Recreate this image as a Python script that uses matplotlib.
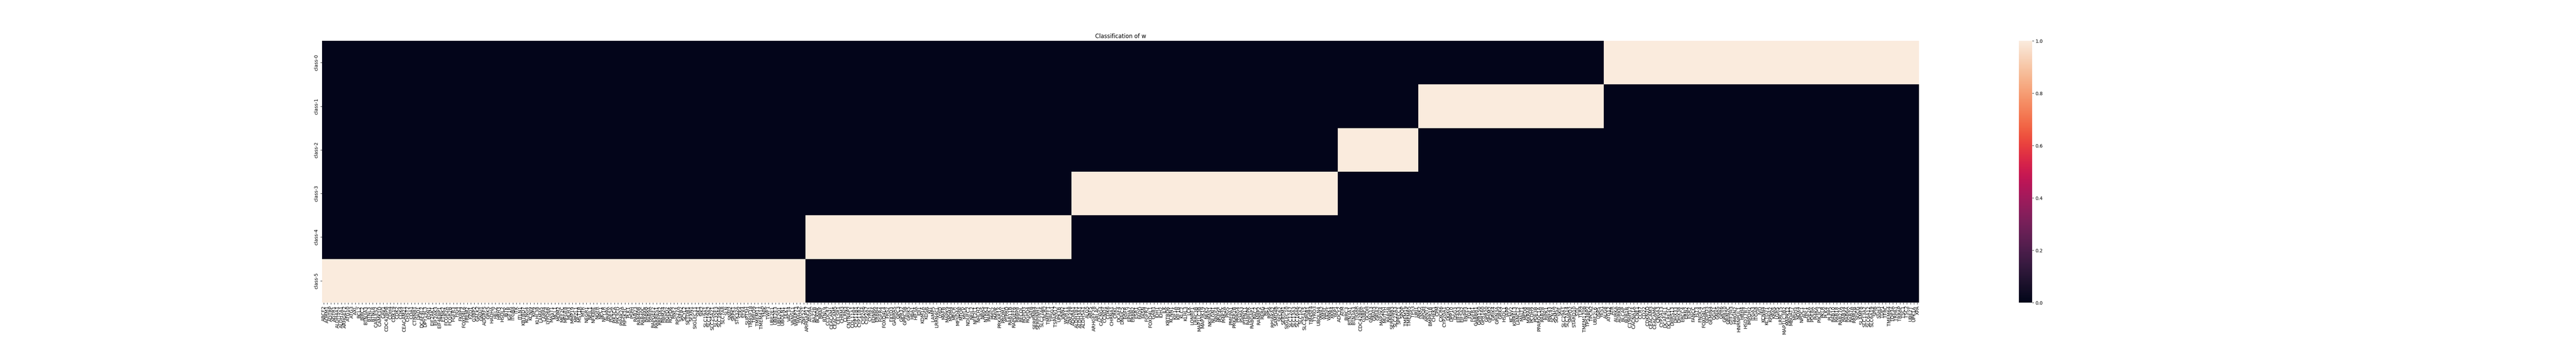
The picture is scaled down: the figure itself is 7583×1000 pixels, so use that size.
import numpy as np
import pandas as pd
import matplotlib
matplotlib.use("Agg")
import matplotlib.pyplot as plt
import seaborn as sns

# gene names per class, in the order they appear along the x axis
class5_genes = [
    "ABCF2", "ADRM1", "ADTRP", "AGTR1", "ALDH4A1", "ALDH7A1", "ARHGEF2", "ATG10", "ATG3", "AXL",
    "BCL2", "BIRC2", "BTN3A3", "BTNL3", "BTNL8", "CABLES2", "CAMK1D", "CAV1", "CDC42BPB", "CDH4",
    "CDK19", "CDK2", "CDK4", "CEACAM21", "CHST2", "COA1", "CTNNB1", "DAD1", "DCAF4L2",
    "DPY19L3", "EDN1", "EIF2AK1", "EIF2AK3", "EIF4EBP1", "ETNK2", "FCGR2A", "FCGR2B", "FGFR3", "FIG4",
    "FKBP4", "FOXD4L6", "FREM2", "FZD1", "G3BP2", "GALK2", "GNAI1", "ADGRF5", "GRK5", "HADHA",
    "HELZ", "HRH3", "HSDL2", "IBTK", "IGF1R", "ITGB8", "ITK", "ITLN1", "KBTBD7", "KCNG4",
    "KCNJ9", "KIF9", "KLHL38", "LAMA5", "LARP4", "LYPD6B", "MAST1", "MCL1", "MDM2", "MEF2C",
    "MFGE8", "MLH3", "MMP19", "MPZL1", "MST1R", "MTR",
    "NEGR1", "NEIL1", "NFKBIE", "NGFR", "NPC1", "NPY1R", "PAPPA", "PDE5A", "PIK3CA", "PIK3CD",
    "PIP4K2A", "PIP5K1C", "PLK1", "PSPH", "RAB23", "RAB40B", "RAB40C", "RAB6B", "RAB9A", "RAPGEF2",
    "RARRES1", "RBFOX2", "RBM24", "RGPD2", "RGPD6", "RNF2", "RPS27A", "SAFB2", "SCYL2", "SETDB1",
    "SFXN1", "SIGLEC11", "SIK1", "SIK2", "SLC19A1", "SLC19A2", "SLC25A21", "SLC35E3", "SLC39A6", "SLC7A8",
    "SLN", "SNAI2", "SRPK1", "STK32A", "STK4", "STX4", "SUPT5H",
    "TM4SF18", "TMED9", "TMEM11", "TMEM41A", "TNIK", "TWF1", "UBE2E1", "UBE2E3", "UBE2Q1", "UBQLN1",
    "ULK1", "VAC14", "VANGL1", "WRAP73", "YWHAZ", "ZNF521",
]
class4_genes = [
    "ARHGAP17", "ATG9A", "BAZ2B", "BCKDK", "BRAF", "BTNL9", "CCDC47", "CEACAM1", "CEACAM5", "CELSR1",
    "CHRM3", "CLRN3", "CNTNAP2", "COL11A1", "CYP11B1", "CYP11B2", "CYP2A6", "CYP2A7", "CYR61", "EDNRA",
    "ERBB4", "FGFR4", "FOXD4L4", "FRS2", "FXYD3", "GABRA5", "GPC3", "GPR37", "GPRC5B", "GRIK5",
    "HBA1", "HIF3A", "IDI1", "KDM1A", "KDSR", "KIT", "LAMP5", "LRRN4CL", "LY6D", "MAFB",
    "MAPK9", "MDM4", "MECR", "MFSD4A", "MTOR", "MYLK", "NDUFC2", "NEIL2", "NFE2L1", "NHLH2",
    "NRAS", "NTRK3", "PARK7", "PMS2", "PMVK", "PRKAR1A", "PROM1", "PTPRD", "RAB11B", "RAPGEF6",
    "RBBP8", "RECQL", "RGPD3", "RGPD4", "SAFB", "SERPINB4", "SERPINH1", "SLC27A6", "TACR2", "TMEFF1",
    "TPSG1", "TSPAN17", "UPK1B", "VNN2", "WDR11", "ZNF598",
]
class3_genes = [
    "ADORA1", "ALDH1B1", "ALDH3A1", "ALDH5A1", "ALG5", "ARF5", "ARHGEF28", "ARL4C", "CACNG4", "CCND1",
    "CDK6", "CHRNA1", "CRKL", "DCAF4", "DNAJC5", "EGFR", "EPHA7", "ERBB2", "ESR1", "FADD",
    "FASN", "FGFR2", "FOXD4L1", "GAB1", "IDH1", "IDH2", "ILK", "KBTBD6", "KCNN1", "KIF1A",
    "KIF1B", "KLC2", "KLHL3", "LCK",
    "LONRF1", "LRRC3B", "MAP1LC3B", "MAP3K19", "NEK5", "NKIRAS1", "NLGN1", "NPAS4", "PDE4C", "PI4K2A",
    "PIGS", "PMEPA1", "PRKAR2B", "PRRG4", "PSMA3", "PTPN11", "RABEPK", "RABGAP1", "RAC2", "RANBP2",
    "RERG", "RET", "RPS6", "RPS6KA2", "SAMD4B", "SEC62", "SERTM1", "SIGLEC10", "SLC12A7", "SLC13A3",
    "SLC16A6", "SLC1A2", "SLC25A15", "SPSB1", "TM4SF4", "TYRO3", "UBQLN4", "VWA2", "WASL", "WNK1",
    "XKR4", "YAP1",
]
class2_genes = [
    "ADCY2", "ATM", "BIRC3", "BTN3A1", "BTN3A3", "TIGAR", "CDC42BPA", "G3BP1", "GCDH", "GNA13",
    "GNAI3", "GRIA2", "MAP2K4", "MUTYH", "RAB5B", "SERPINB3", "SLC22A3", "SPECC1", "SPOP", "TMEM19",
    "TMEM65", "TP53", "URI1",
]
class1_genes = [
    "ANK2", "APOH", "ARNT2", "BMPR1B", "CHEK1", "CPM", "CXCR6", "CYP20A1", "DGKQ", "DPP10",
    "DSG3", "EIF4A3", "EIF5A2", "ENPP3", "FGF1", "FGFR1", "GABBR1", "GPR150", "GPR160", "GPR20",
    "GPSM2", "GRIK4", "GRIN3A", "GRK4", "HSDL1", "IAPP", "KCNV2", "KIRREL3", "LANCL2", "MALT1",
    "MED8", "MXRA8", "PCDH9", "PDE3B", "PPARGC1A", "RAB28", "RIPK1", "RNF43", "SCN7A", "SGMS2",
    "SKIL", "SLC29A1", "SLC7A14", "SMPD2", "STARD10", "STIL", "TLR4", "TMEM170B", "TP53BP2", "TPCN2",
    "UBE2L6", "USP5", "YES1",
]
class0_genes = [
    "ALG8", "ATG12", "ATR", "AURKA", "AURKB", "BLCAP", "BUB1B", "C19orf12", "CACNA1A", "CCNE1",
    "CCR7", "CD22", "CDKN2D", "CEACAM3", "CEACAM6", "CNGA3", "CYP2A13", "DCAF4L1", "DCLRE1C", "DHRS13",
    "DHX33", "DHX38", "ERCC4", "ERN2", "ESR2", "FANCC", "FLT3", "FNDC4", "FOXD4L5", "GDPD3",
    "GEMIN4", "GGA1", "GNAS", "GPR6", "GRB10", "GRIN2C", "GTF2H3", "HMGN2", "HNRNPUL1", "HRH4",
    "HSD17B7", "IMPDH2", "ITGA3", "ITGA8", "IVD", "KCNN4", "KCTD21", "KPNA2", "KRAS", "LGR5",
    "LRRC15", "MAP1LC3B2", "MAPK12", "MBOAT7", "MSH5", "NOX4", "NPDC1", "PAF1", "PDE2A", "PDE8A",
    "PI4KA", "PIK3C3", "PKLR", "PLK4", "PLPP5", "RAB10",
    "RAB18", "RAB27A", "RAB34", "RAB6A", "RAB7A", "RRM2B", "SGCG", "SLAMF8", "SLC13A2", "SLC6A12",
    "SLC6A19", "SPIB", "SSH3", "TDP1", "TFRC", "TMEM64", "TOP3A", "TRPA1", "TRRAP", "TSC1",
    "TSC2", "UBE2T", "UPK1A", "XPA",
]

class_names = ["class-0", "class-1", "class-2", "class-3", "class-4", "class-5"]
genes_by_class = {
    "class-0": class0_genes,
    "class-1": class1_genes,
    "class-2": class2_genes,
    "class-3": class3_genes,
    "class-4": class4_genes,
    "class-5": class5_genes,
}
column_order = ["class-5", "class-4", "class-3", "class-2", "class-1", "class-0"]

genes = []
gene_class = []
for c in column_order:
    genes += genes_by_class[c]
    gene_class += [c] * len(genes_by_class[c])

w = pd.DataFrame(
    [[1.0 if gc == c else 0.0 for gc in gene_class] for c in class_names],
    index=class_names, columns=genes)

plt.figure(figsize=(75.83, 10), dpi=100)
ax = sns.heatmap(w, xticklabels=True, yticklabels=True)
ax.set_title("Classification of w")
plt.setp(ax.get_yticklabels(), rotation=90, va="center")
plt.setp(ax.get_xticklabels(), rotation=90)

plt.savefig("out.png", dpi=100)
